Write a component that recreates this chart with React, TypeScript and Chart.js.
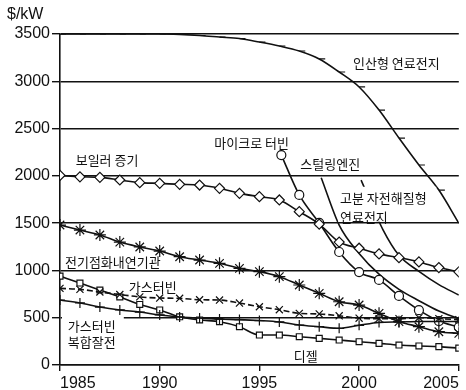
import React, { useEffect, useRef } from 'react';
import { Chart, registerables } from 'chart.js';

Chart.register(...registerables);

// ---------- data ----------
const years = [1985, 1986, 1987, 1988, 1989, 1990, 1991, 1992, 1993, 1994, 1995, 1996, 1997, 1998, 1999, 2000, 2001, 2002, 2003, 2004, 2005];

const phosphoricFC = [3500, 3500, 3500, 3500, 3500, 3500, 3495, 3484, 3468, 3452, 3415, 3373, 3320, 3236, 3098, 2940, 2696, 2400, 2115, 1850, 1500];
const boilerSteam = [2005, 1990, 1984, 1956, 1928, 1921, 1910, 1903, 1868, 1815, 1780, 1745, 1621, 1490, 1300, 1235, 1175, 1135, 1090, 1030, 985];
const sparkIgnition = [1480, 1427, 1375, 1300, 1248, 1205, 1145, 1110, 1075, 1022, 987, 934, 846, 758, 669, 634, 546, 458, 405, 352, 335];
const gasTurbine = [810, 800, 772, 745, 720, 708, 705, 690, 687, 655, 616, 585, 546, 540, 520, 495, 490, 490, 500, 490, 480];
const combinedCycle = [687, 656, 613, 582, 560, 529, 508, 497, 486, 480, 470, 455, 423, 405, 388, 420, 450, 455, 460, 460, 460];
const diesel = [940, 867, 793, 719, 640, 582, 510, 476, 458, 405, 317, 317, 299, 282, 264, 246, 229, 211, 201, 194, 178];

const microTurbineYears = [1996.1, 1997, 1998, 1999, 2000, 2001, 2002, 2003, 2004, 2005];
const microTurbine = [2220, 1798, 1502, 1195, 983, 900, 730, 580, 465, 400];

const stirlingYears = [1998.1, 1999, 2000, 2001, 2002, 2003, 2004, 2005];
const stirling = [1980, 1480, 1180, 960, 800, 680, 570, 490];

const pefcYears = [2000.1, 2001.2, 2002, 2003, 2004, 2005];
const pefc = [1955, 1430, 1160, 990, 850, 740];

const xTicks = [1985, 1990, 1995, 2000, 2005];
const yTicks = [0, 500, 1000, 1500, 2000, 2500, 3000, 3500];
const yUnit = '$/kW';

// ---------- annotations (data coordinates) ----------
const labels = [
  { text: '인산형 연료전지', x: 2001.87, y: 3190, align: 'center' },
  { text: '마이크로 터빈', x: 1994.61, y: 2347, align: 'center' },
  { text: '스털링엔진', x: 1998.55, y: 2120, align: 'center' },
  { text: '고분 자전해질형', x: 1999.04, y: 1762, align: 'left' },
  { text: '연료전지', x: 1999.04, y: 1568, align: 'left' },
  { text: '보일러 증기', x: 1987.36, y: 2168, align: 'center' },
  { text: '전기점화내연기관', x: 1985.25, y: 1084, align: 'left' },
  { text: '가스터빈', x: 1988.45, y: 825, align: 'left' },
  { text: '가스터빈', x: 1985.39, y: 407, align: 'left' },
  { text: '복합잘전', x: 1985.39, y: 238, align: 'left' },
  { text: '디젤', x: 1996.72, y: 90, align: 'left' },
];

// white boxes behind labels (data coordinates)
const masks = [
  { x1: 1985.1, x2: 1988.2, y1: 520, y2: 160 },
  { x1: 1998.94, x2: 2003.87, y1: 1885, y2: 1515 },
];

const INK = '#111';
const NUM_FONT = "'Liberation Sans Narrow', 'Liberation Sans', Arial, sans-serif";
const KR_FONT = "'Noto Sans CJK KR', sans-serif";

const pts = (xs: number[], ys: number[]) => xs.map((x, i) => ({ x, y: ys[i] }));

const labelPlugin = {
  id: 'koreanLabels',
  afterDatasetsDraw(chart: any) {
    const { ctx, scales, chartArea } = chart;
    const xs = scales.x;
    const ys = scales.y;
    ctx.save();
    ctx.fillStyle = '#fff';
    masks.forEach((m) => {
      const l = xs.getPixelForValue(m.x1);
      const r = xs.getPixelForValue(m.x2);
      const t = ys.getPixelForValue(m.y1);
      const b = ys.getPixelForValue(m.y2);
      ctx.fillRect(l, t, r - l, b - t);
    });
    ctx.fillStyle = INK;
    ctx.textBaseline = 'middle';
    ctx.font = `13px ${KR_FONT}`;
    labels.forEach((a) => {
      ctx.textAlign = a.align;
      ctx.fillText(a.text, xs.getPixelForValue(a.x), ys.getPixelForValue(a.y));
    });
    ctx.font = `16px ${NUM_FONT}`;
    ctx.textAlign = 'left';
    ctx.fillText(yUnit, 7, chartArea.top - 19);
    ctx.restore();
  },
};

export default function App() {
  const ref = useRef<HTMLCanvasElement | null>(null);

  useEffect(() => {
    if (!ref.current) return;
    const common = {
      borderColor: INK,
      borderWidth: 1.6,
      pointBorderColor: INK,
      pointBackgroundColor: '#fff',
      pointBorderWidth: 1.2,
      cubicInterpolationMode: 'monotone' as const,
      fill: false,
    };
    const chart = new Chart(ref.current, {
      type: 'line',
      data: {
        datasets: [
          { ...common, label: '인산형 연료전지', data: pts(years, phosphoricFC), pointStyle: 'dash', pointRadius: 6 },
          { ...common, label: '보일러 증기', data: pts(years, boilerSteam), pointStyle: 'rectRot', pointRadius: 5 },
          { ...common, label: '전기점화내연기관', data: pts(years, sparkIgnition), pointStyle: 'star', pointRadius: 6 },
          { ...common, label: '가스터빈', data: pts(years, gasTurbine), pointStyle: 'crossRot', pointRadius: 5, borderDash: [6, 3] },
          { ...common, label: '가스터빈 복합잘전', data: pts(years, combinedCycle), pointStyle: 'cross', pointRadius: 5 },
          { ...common, label: '디젤', data: pts(years, diesel), pointStyle: 'rect', pointRadius: 4.2 },
          { ...common, label: '마이크로 터빈', data: pts(microTurbineYears, microTurbine), pointStyle: 'circle', pointRadius: 4.5 },
          { ...common, label: '스털링엔진', data: pts(stirlingYears, stirling), pointRadius: 0 },
          { ...common, label: '고분 자전해질형 연료전지', data: pts(pefcYears, pefc), pointRadius: 0 },
        ],
      },
      options: {
        responsive: false,
        devicePixelRatio: 1,
        animation: false,
        layout: { padding: { top: 34, left: 0, right: 0, bottom: 0 } },
        plugins: { legend: { display: false }, tooltip: { enabled: false }, title: { display: false } },
        scales: {
          x: {
            type: 'linear',
            min: 1985,
            max: 2005,
            afterBuildTicks: (axis: any) => { axis.ticks = xTicks.map((v) => ({ value: v })); },
            afterFit: (s: any) => { s.height = 25; s.paddingLeft = 0; s.paddingRight = 0; },
            ticks: {
              align: 'inner',
              padding: 3,
              color: INK,
              font: { family: NUM_FONT, size: 16 },
              callback: (v: any) => String(v),
            },
            grid: { drawOnChartArea: false, drawTicks: true, tickLength: 6, color: INK, lineWidth: 1.4 },
            border: { color: INK, width: 1.6 },
          },
          y: {
            min: 0,
            max: 3500,
            afterBuildTicks: (axis: any) => { axis.ticks = yTicks.map((v) => ({ value: v })); },
            afterFit: (s: any) => { s.width = 60; s.paddingTop = 0; s.paddingBottom = 0; },
            ticks: { padding: 2, color: INK, font: { family: NUM_FONT, size: 16 }, callback: (v: any) => String(v) },
            grid: { color: INK, lineWidth: 1.4, tickLength: 8 },
            border: { color: INK, width: 1.6 },
          },
        },
      },
      plugins: [labelPlugin],
    });
    return () => chart.destroy();
  }, []);

  return (
    <div style={{ position: 'absolute', left: 0, top: 0, width: 466, height: 390, background: '#fff' }}>
      <canvas ref={ref} width={466} height={390} style={{ display: 'block' }} />
    </div>
  );
}
